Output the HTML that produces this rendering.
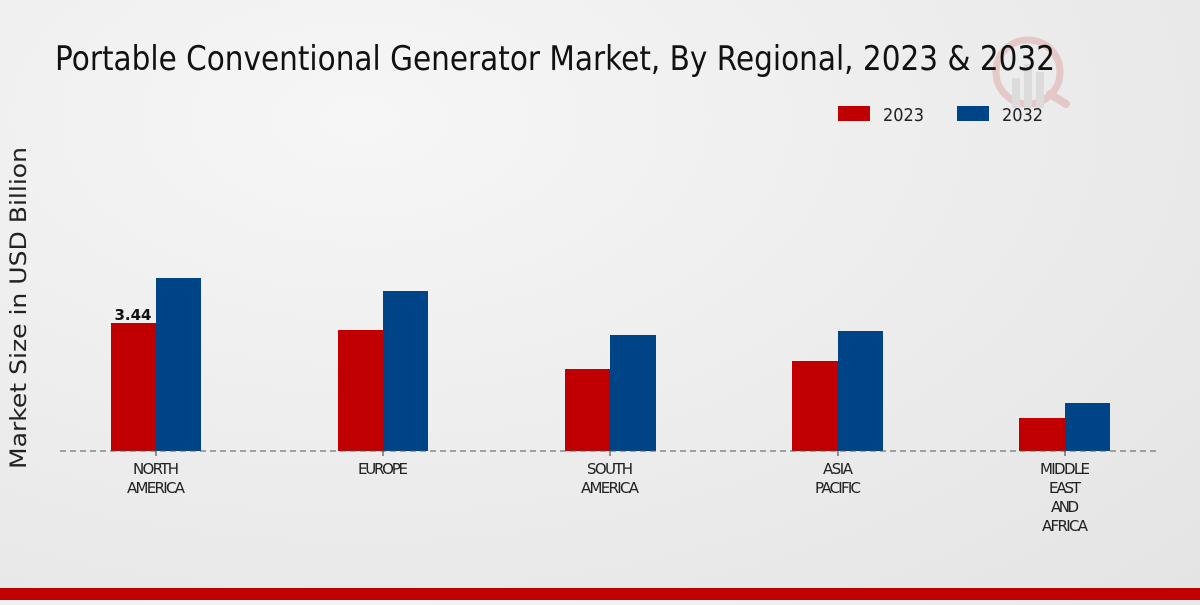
<!DOCTYPE html>
<html><head><meta charset="utf-8"><style>
html,body{margin:0;padding:0}
body{width:1200px;height:600px;overflow:hidden;background:radial-gradient(ellipse at 30% 20%,#f6f6f6 0%,#ebebeb 60%,#e4e4e4 100%)}
svg text{font-family:"DejaVu Sans","Liberation Sans",sans-serif}
</style></head><body>
<svg width="1200" height="600" viewBox="0 0 1200 600" xmlns="http://www.w3.org/2000/svg">
<g opacity="0.15">
<circle cx="1028" cy="72" r="32" fill="none" stroke="#c00000" stroke-width="7"/>
<line x1="1050" y1="94" x2="1066" y2="104" stroke="#c00000" stroke-width="8" stroke-linecap="round"/>
<rect x="1012" y="78" width="8" height="30" fill="#888"/>
<rect x="1024" y="64" width="8" height="44" fill="#888"/>
<rect x="1036" y="72" width="8" height="36" fill="#888"/>
</g>
<text x="55" y="70" font-size="34" textLength="1000" lengthAdjust="spacingAndGlyphs" fill="#111">Portable Conventional Generator Market, By Regional, 2023 &amp; 2032</text>
<rect x="838" y="106" width="32" height="15" fill="#c00000"/>
<text x="883" y="121" font-size="18" textLength="41" lengthAdjust="spacingAndGlyphs" fill="#222">2023</text>
<rect x="957" y="106" width="32" height="15" fill="#004488"/>
<text x="1002" y="121" font-size="18" textLength="41" lengthAdjust="spacingAndGlyphs" fill="#222">2032</text>
<text transform="translate(26,308) rotate(-90)" text-anchor="middle" font-size="22" textLength="322" lengthAdjust="spacingAndGlyphs" fill="#222">Market Size in USD Billion</text>
<g>
<rect x="111" y="323" width="45" height="128" fill="#c00000"/>
<rect x="156" y="278" width="45" height="173" fill="#004488"/>
<rect x="338" y="330" width="45" height="121" fill="#c00000"/>
<rect x="383" y="291" width="45" height="160" fill="#004488"/>
<rect x="565" y="369" width="45" height="82" fill="#c00000"/>
<rect x="610" y="335" width="46" height="116" fill="#004488"/>
<rect x="792" y="361" width="46" height="90" fill="#c00000"/>
<rect x="838" y="331" width="45" height="120" fill="#004488"/>
<rect x="1019" y="418" width="46" height="33" fill="#c00000"/>
<rect x="1065" y="403" width="45" height="48" fill="#004488"/>
</g>
<line x1="60" y1="451" x2="1160" y2="451" stroke="#555" stroke-width="1" stroke-dasharray="6,4"/>
<text x="133" y="320" text-anchor="middle" font-size="15" font-weight="bold" fill="#111">3.44</text>
<g font-size="15" fill="#222" text-anchor="middle" lengthAdjust="spacingAndGlyphs">
<line x1="156" y1="451" x2="156" y2="456" stroke="#333"/>
<line x1="383" y1="451" x2="383" y2="456" stroke="#333"/>
<line x1="610" y1="451" x2="610" y2="456" stroke="#333"/>
<line x1="838" y1="451" x2="838" y2="456" stroke="#333"/>
<line x1="1065" y1="451" x2="1065" y2="456" stroke="#333"/>
<text x="156" y="474" textLength="46">NORTH</text>
<text x="156" y="493" textLength="58">AMERICA</text>
<text x="383" y="474" textLength="50">EUROPE</text>
<text x="610" y="474" textLength="46">SOUTH</text>
<text x="610" y="493" textLength="58">AMERICA</text>
<text x="838" y="474" textLength="30">ASIA</text>
<text x="838" y="493" textLength="46">PACIFIC</text>
<text x="1065" y="474" textLength="50">MIDDLE</text>
<text x="1065" y="493" textLength="32">EAST</text>
<text x="1065" y="512" textLength="28">AND</text>
<text x="1065" y="531" textLength="46">AFRICA</text>
</g>
<rect x="0" y="588" width="1200" height="12" fill="#c00000"/>
</svg>
</body></html>
